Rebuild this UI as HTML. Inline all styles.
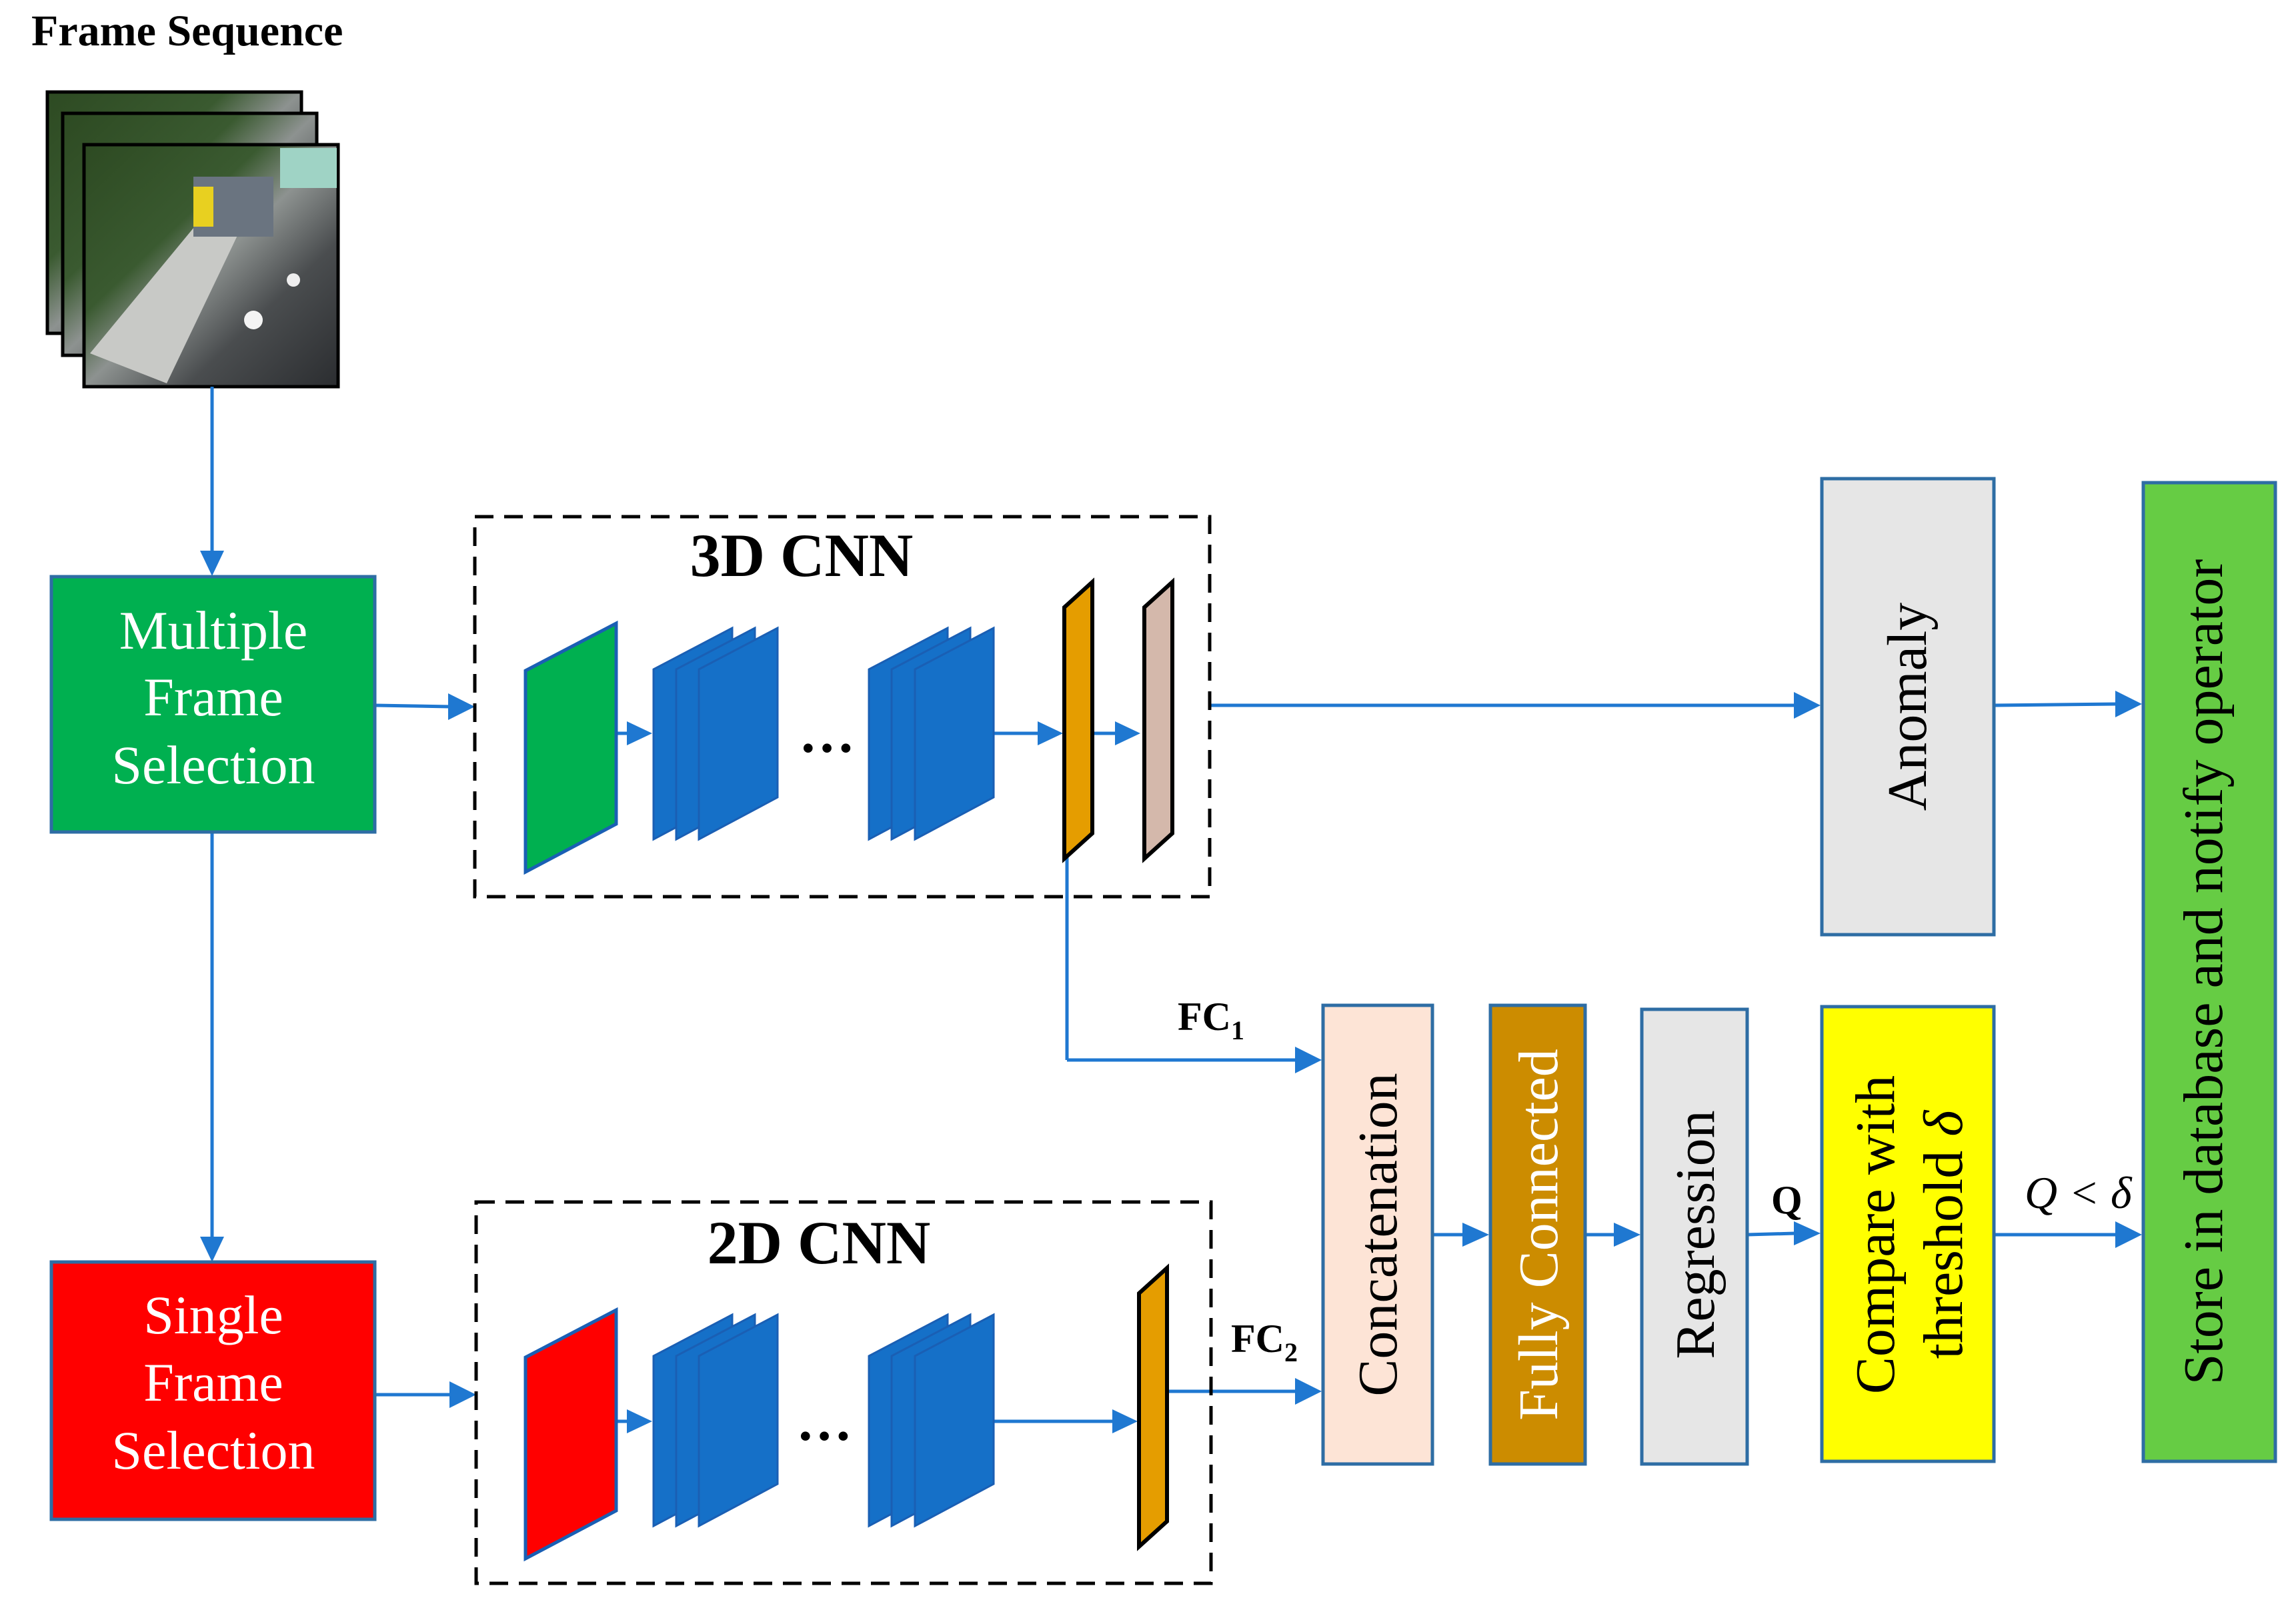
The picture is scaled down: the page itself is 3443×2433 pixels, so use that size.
<!DOCTYPE html>
<html><head><meta charset="utf-8"><style>
html,body{margin:0;padding:0;background:#fff;}
svg{display:block;}
text{font-family:"Liberation Serif",serif;}
</style></head><body>
<svg width="3443" height="2433" viewBox="0 0 3443 2433" xmlns="http://www.w3.org/2000/svg">
<defs>
<linearGradient id="img" x1="0" y1="0" x2="1" y2="1">
<stop offset="0" stop-color="#2d4a22"/><stop offset="0.35" stop-color="#3a5a30"/><stop offset="0.5" stop-color="#8d9290"/><stop offset="0.7" stop-color="#4a4d4f"/><stop offset="1" stop-color="#2b2d30"/>
</linearGradient>
</defs>

<text x="47" y="68" font-size="66" font-weight="bold">Frame Sequence</text>

<rect x="71" y="138" width="381" height="362" fill="url(#img)" stroke="#000" stroke-width="5"/>
<rect x="94" y="170" width="381" height="363" fill="url(#img)" stroke="#000" stroke-width="5"/>
<g>
<rect x="126" y="217" width="381" height="363" fill="url(#img)" stroke="#000" stroke-width="5"/>
<polygon points="135,530 300,330 360,345 250,575" fill="#c8c9c6"/>
<rect x="290" y="265" width="120" height="90" fill="#6a7480"/>
<rect x="290" y="280" width="30" height="60" fill="#e8d020"/>
<circle cx="380" cy="480" r="14" fill="#f4f4f4"/>
<circle cx="440" cy="420" r="10" fill="#eee"/>
<rect x="420" y="222" width="85" height="60" fill="#9fd3c5"/>
</g>

<g stroke="#1f78d1" stroke-width="5" fill="none">
<line x1="318" y1="580" x2="318" y2="830"/>
<line x1="318" y1="1248" x2="318" y2="1860"/>
<line x1="562" y1="1058" x2="676" y2="1060"/>
<line x1="562" y1="2092" x2="678" y2="2092"/>
<line x1="923" y1="1100" x2="945" y2="1100"/>
<line x1="1489" y1="1100" x2="1560" y2="1100"/>
<line x1="1638" y1="1100" x2="1676" y2="1100"/>
<line x1="1814" y1="1058" x2="2690" y2="1058"/>
<line x1="2990" y1="1058" x2="3174" y2="1056"/>
<line x1="1600" y1="1286" x2="1600" y2="1590"/>
<line x1="1600" y1="1590" x2="1944" y2="1590"/>
<line x1="1750" y1="2087" x2="1944" y2="2087"/>
<line x1="923" y1="2132" x2="945" y2="2132"/>
<line x1="1489" y1="2132" x2="1670" y2="2132"/>
<line x1="2148" y1="1852" x2="2195" y2="1852"/>
<line x1="2377" y1="1852" x2="2422" y2="1852"/>
<line x1="2620" y1="1852" x2="2692" y2="1850"/>
<line x1="2990" y1="1852" x2="3174" y2="1852"/>
</g>
<g fill="#1f78d1">
<polygon points="300,826 336,826 318,864"/>
<polygon points="300,1855 336,1855 318,1893"/>
<polygon points="672,1040 712,1060 672,1080"/>
<polygon points="674,2072 714,2092 674,2112"/>
<polygon points="940,1082 978,1100 940,1118"/>
<polygon points="1556,1082 1594,1100 1556,1118"/>
<polygon points="1672,1082 1710,1100 1672,1118"/>
<polygon points="2690,1038 2730,1058 2690,1078"/>
<polygon points="3172,1036 3212,1056 3172,1076"/>
<polygon points="1942,1570 1982,1590 1942,1610"/>
<polygon points="1942,2067 1982,2087 1942,2107"/>
<polygon points="940,2114 978,2132 940,2150"/>
<polygon points="1668,2114 1706,2132 1668,2150"/>
<polygon points="2193,1834 2233,1852 2193,1870"/>
<polygon points="2420,1834 2460,1852 2420,1870"/>
<polygon points="2690,1832 2730,1850 2690,1868"/>
<polygon points="3172,1832 3212,1852 3172,1872"/>
</g>

<rect x="77" y="865" width="485" height="383" fill="#00b050" stroke="#2e6da4" stroke-width="5"/>
<g fill="#fff" font-size="82" text-anchor="middle">
<text x="320" y="973">Multiple</text>
<text x="320" y="1073">Frame</text>
<text x="320" y="1175">Selection</text>
</g>
<rect x="77" y="1893" width="485" height="386" fill="#ff0000" stroke="#2e6da4" stroke-width="5"/>
<g fill="#fff" font-size="82" text-anchor="middle">
<text x="320" y="2000">Single</text>
<text x="320" y="2101">Frame</text>
<text x="320" y="2203">Selection</text>
</g>

<rect x="712" y="775" width="1102" height="570" fill="none" stroke="#000" stroke-width="5" stroke-dasharray="28,16"/>
<text x="1202" y="864" font-size="92" font-weight="bold" text-anchor="middle">3D CNN</text>
<polygon points="788,1006 924,935 924,1236 788,1308" fill="#00b050" stroke="#1a5fb4" stroke-width="5"/>
<g fill="#1570c8" stroke="#1a5fb4" stroke-width="3">
<polygon points="980,1004 1098,942 1098,1196 980,1259"/>
<polygon points="1014,1004 1132,942 1132,1196 1014,1259"/>
<polygon points="1048,1004 1166,942 1166,1196 1048,1259"/>
<polygon points="1303,1004 1421,942 1421,1196 1303,1259"/>
<polygon points="1337,1004 1455,942 1455,1196 1337,1259"/>
<polygon points="1372,1004 1490,942 1490,1196 1372,1259"/>
</g>
<text x="1240" y="1128" font-size="84" font-weight="bold" text-anchor="middle">…</text>
<polygon points="1596,911 1638,873 1638,1250 1596,1288" fill="#e59d00" stroke="#000" stroke-width="6"/>
<polygon points="1716,911 1758,873 1758,1250 1716,1288" fill="#d4b8ab" stroke="#000" stroke-width="6"/>

<rect x="714" y="1803" width="1102" height="572" fill="none" stroke="#000" stroke-width="5" stroke-dasharray="28,16"/>
<text x="1228" y="1895" font-size="92" font-weight="bold" text-anchor="middle">2D CNN</text>
<polygon points="788,2036 924,1965 924,2266 788,2338" fill="#ff0000" stroke="#1a5fb4" stroke-width="5"/>
<g fill="#1570c8" stroke="#1a5fb4" stroke-width="3">
<polygon points="980,2034 1098,1972 1098,2226 980,2289"/>
<polygon points="1014,2034 1132,1972 1132,2226 1014,2289"/>
<polygon points="1048,2034 1166,1972 1166,2226 1048,2289"/>
<polygon points="1303,2034 1421,1972 1421,2226 1303,2289"/>
<polygon points="1337,2034 1455,1972 1455,2226 1337,2289"/>
<polygon points="1372,2034 1490,1972 1490,2226 1372,2289"/>
</g>
<text x="1236" y="2160" font-size="84" font-weight="bold" text-anchor="middle">…</text>
<polygon points="1708,1940 1750,1902 1750,2282 1708,2320" fill="#e59d00" stroke="#000" stroke-width="6"/>

<text x="1766" y="1545" font-size="60" font-weight="bold">FC<tspan font-size="40" dy="14">1</tspan></text>
<text x="1846" y="2028" font-size="60" font-weight="bold">FC<tspan font-size="40" dy="14">2</tspan></text>
<text x="2656" y="1820" font-size="60" font-weight="bold">Q</text>
<text x="3036" y="1812" font-size="68" font-style="italic">Q &lt; δ</text>

<rect x="2732" y="718" width="258" height="684" fill="#e6e6e6" stroke="#2e6da4" stroke-width="5"/>
<text transform="translate(2888,1060) rotate(-90)" font-size="84" text-anchor="middle">Anomaly</text>

<rect x="3214" y="724" width="198" height="1468" fill="#66cc44" stroke="#2e6da4" stroke-width="5"/>
<text transform="translate(3332,1458) rotate(-90)" font-size="84" text-anchor="middle">Store in database and notify operator</text>

<rect x="1984" y="1508" width="164" height="688" fill="#fde4d6" stroke="#2e6da4" stroke-width="5"/>
<text transform="translate(2094,1852) rotate(-90)" font-size="84" text-anchor="middle">Concatenation</text>

<rect x="2235" y="1508" width="142" height="688" fill="#cc8c00" stroke="#2e6da4" stroke-width="5"/>
<text transform="translate(2335,1852) rotate(-90)" font-size="84" fill="#fff" text-anchor="middle">Fully Connected</text>

<rect x="2462" y="1514" width="158" height="682" fill="#e6e6e6" stroke="#2e6da4" stroke-width="5"/>
<text transform="translate(2570,1852) rotate(-90)" font-size="84" text-anchor="middle">Regression</text>

<rect x="2732" y="1510" width="258" height="682" fill="#ffff00" stroke="#2e6da4" stroke-width="5"/>
<text transform="translate(2840,1852) rotate(-90)" font-size="84" text-anchor="middle">Compare with</text>
<text transform="translate(2942,1852) rotate(-90)" font-size="84" text-anchor="middle">threshold <tspan font-style="italic">δ</tspan></text>
</svg>
</body></html>
